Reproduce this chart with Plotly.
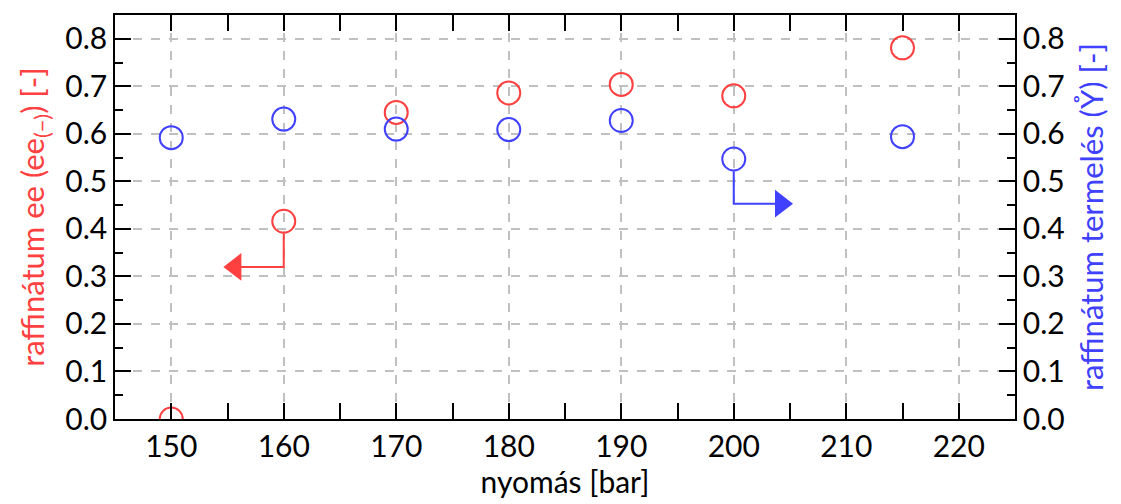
import plotly.graph_objects as go

pressure = [150, 160, 170, 180, 190, 200, 215]
ee_values = [0.0, 0.416, 0.645, 0.686, 0.704, 0.680, 0.781]
yield_values = [0.592, 0.631, 0.610, 0.609, 0.628, 0.547, 0.594]
x_ticks = [150, 160, 170, 180, 190, 200, 210, 220]
y_ticks = [0.0, 0.1, 0.2, 0.3, 0.4, 0.5, 0.6, 0.7, 0.8]

RED = "#ff4040"
BLUE = "#4040ff"
FONT = "Lato, DejaVu Sans, sans-serif"

fig = go.Figure()
fig.add_trace(go.Scatter(x=pressure, y=ee_values, mode="markers",
                         marker=dict(symbol="circle-open", size=23, color=RED, line=dict(width=2)),
                         showlegend=False, yaxis="y"))
fig.add_trace(go.Scatter(x=pressure, y=yield_values, mode="markers",
                         marker=dict(symbol="circle-open", size=23, color=BLUE, line=dict(width=2)),
                         showlegend=False, yaxis="y2"))

# indicator arrows (elbow line ending in a filled arrowhead)
ee_idx, y_idx = 1, 5
fig.add_trace(go.Scatter(
    x=[pressure[ee_idx], pressure[ee_idx], 156.2],
    y=[ee_values[ee_idx] - 0.026, 0.32, 0.32],
    mode="lines", line=dict(color=RED, width=2),
    showlegend=False, hoverinfo="skip", yaxis="y"))
fig.add_trace(go.Scatter(
    x=[155.7], y=[0.32], mode="markers",
    marker=dict(symbol="triangle-left", size=24, color=RED, line=dict(width=0)),
    showlegend=False, hoverinfo="skip", yaxis="y"))
fig.add_trace(go.Scatter(
    x=[pressure[y_idx], pressure[y_idx], 203.8],
    y=[yield_values[y_idx] - 0.026, 0.453, 0.453],
    mode="lines", line=dict(color=BLUE, width=2),
    showlegend=False, hoverinfo="skip", yaxis="y"))
fig.add_trace(go.Scatter(
    x=[204.2], y=[0.453], mode="markers",
    marker=dict(symbol="triangle-right", size=24, color=BLUE, line=dict(width=0)),
    showlegend=False, hoverinfo="skip", yaxis="y"))

axis_common = dict(showline=True, linecolor="black", linewidth=1.5, ticks="inside",
                   ticklen=16, tickwidth=1.5, tickcolor="black", zeroline=False,
                   tickfont=dict(size=30, color="black", family=FONT))

fig.update_layout(
    width=1121, height=504,
    margin=dict(l=115, r=106, t=15, b=85),
    plot_bgcolor="white", paper_bgcolor="white",
    font=dict(family=FONT, size=30, color="black"),
    xaxis=dict(range=[145, 225], tickvals=x_ticks, mirror="allticks",
               showgrid=True, gridcolor="#c0c0c0", griddash="dash", gridwidth=1.5,
               minor=dict(dtick=5, ticks="inside", ticklen=8, tickwidth=1.5, tickcolor="black", showgrid=False),
               title=dict(text="nyomás [bar]", font=dict(size=30, color="black"), standoff=8),
               **axis_common),
    yaxis=dict(range=[0, 0.85], tickvals=y_ticks, tickformat=".1f", mirror="allticks",
               showgrid=True, gridcolor="#c0c0c0", griddash="dash", gridwidth=1.5,
               minor=dict(dtick=0.05, tick0=0, ticks="inside", ticklen=8, tickwidth=1.5, tickcolor="black", showgrid=False),
               title=dict(text="raffinátum ee (ee<sub>(−)</sub>) [-]", font=dict(size=31, color=RED), standoff=12),
               **axis_common),
    yaxis2=dict(range=[0, 0.85], tickvals=y_ticks, tickformat=".1f", overlaying="y", side="right",
                showgrid=False,
                minor=dict(dtick=0.05, tick0=0, ticks="inside", ticklen=8, tickwidth=1.5, tickcolor="black", showgrid=False),
                title=dict(text="raffinátum termelés (Y\u030a) [-]", font=dict(size=31, color=BLUE), standoff=18),
                **axis_common),
)

fig.write_html("out.html")
